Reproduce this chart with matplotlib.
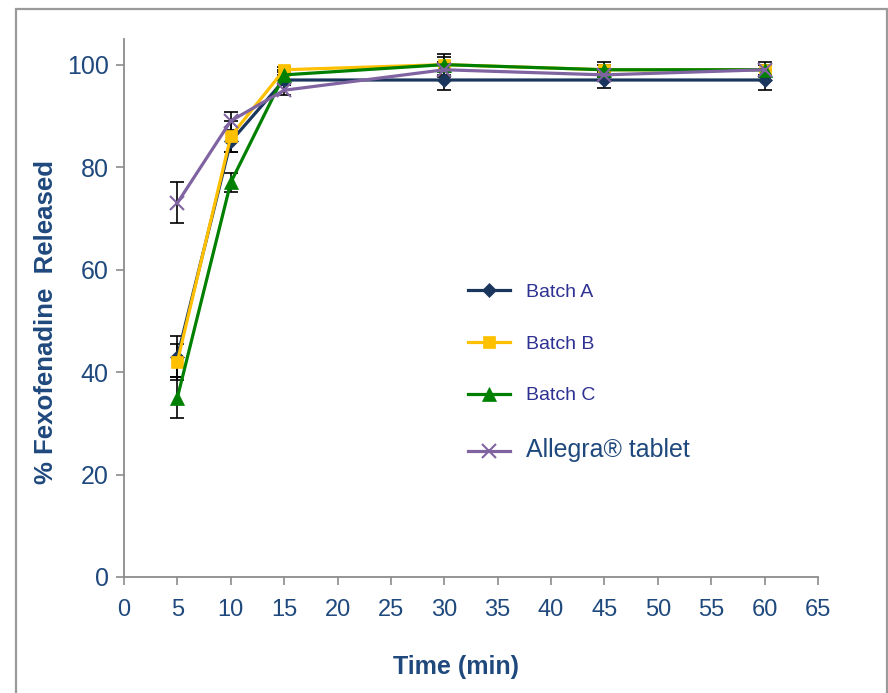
import matplotlib
matplotlib.use("Agg")
import matplotlib.pyplot as plt
from matplotlib.patches import Rectangle

# время отбора проб, мин
time_min = [5, 10, 15, 30, 45, 60]

batch_a = [43, 85, 97, 97, 97, 97]
batch_b = [42, 86, 99, 100, 99, 99]
batch_c = [35, 77, 98, 100, 99, 99]
allegra = [73, 89, 95, 99, 98, 99]

err_a = [4.0, 2.0, 1.0, 2.0, 1.5, 2.0]
err_b = [3.5, 3.0, 0.5, 2.0, 1.5, 1.5]
err_c = [4.0, 1.8, 1.0, 1.5, 1.0, 1.0]
err_allegra = [4.0, 1.7, 1.0, 1.5, 1.0, 1.0]

labels = ["Batch A", "Batch B", "Batch C", "Allegra® tablet"]
x_ticks = list(range(0, 70, 5))
y_ticks = [0, 20, 40, 60, 80, 100]

TICK_COLOR = "#1F497D"
AXIS_GRAY = "#8C8C8C"

plt.rcParams["font.family"] = ["Liberation Sans", "DejaVu Sans"]

fig = plt.figure(figsize=(8.88, 6.93), dpi=100)
ax = fig.add_axes([0.1396, 0.1674, 0.9212 - 0.1396, 0.9437 - 0.1674])

series = [
    (batch_a, err_a, "#1B365D", "D", 7),
    (batch_b, err_b, "#FFC000", "s", 9),
    (batch_c, err_c, "#008000", "^", 10),
    (allegra, err_allegra, "#8064A2", "x", 10),
]

for (vals, errs, col, mk, ms), lab in zip(series, labels):
    ax.errorbar(time_min, vals, yerr=errs, fmt="none", ecolor="black",
                elinewidth=1.2, capsize=5, capthick=1.2, zorder=2)
    ax.plot(time_min, vals, color=col, marker=mk, markersize=ms,
            markeredgewidth=1.5 if mk == "x" else 0.5, linewidth=2.3,
            label=lab, zorder=3)

ax.set_xlim(0, 65)
ax.set_ylim(0, 105)
ax.set_xticks(x_ticks)
ax.set_yticks(y_ticks)

for side in ("top", "right"):
    ax.spines[side].set_visible(False)
for side in ("left", "bottom"):
    ax.spines[side].set_color(AXIS_GRAY)
    ax.spines[side].set_linewidth(1.3)

ax.tick_params(axis="both", direction="out", color=AXIS_GRAY, length=6,
               width=1.2, labelcolor=TICK_COLOR)
ax.tick_params(axis="x", pad=10, labelsize=17)
ax.tick_params(axis="y", pad=5, labelsize=18)

ax.set_xlabel("Time (min)", fontsize=18, fontweight="bold", color=TICK_COLOR)
ax.xaxis.set_label_coords(0.478, -0.145)
ax.set_ylabel("% Fexofenadine  Released", fontsize=18.5, fontweight="bold",
              color=TICK_COLOR)
ax.yaxis.set_label_coords(-0.095, 0.474)

leg = ax.legend(loc="upper left", bbox_to_anchor=(0.47, 0.578), frameon=False,
                fontsize=14, handlelength=2.2, labelspacing=1.75,
                handletextpad=0.8)
for i, txt in enumerate(leg.get_texts()):
    if i < 3:
        txt.set_color("#2E3192")
    else:
        txt.set_color(TICK_COLOR)
        txt.set_fontsize(18)

# рамка вокруг рисунка
fig.patches.append(Rectangle((0.0175, -0.02), 0.981, 0.9866 + 0.02,
                             transform=fig.transFigure, fill=False,
                             edgecolor="#9A9A9A", linewidth=1.6))

fig.savefig("out.png", dpi=100)
